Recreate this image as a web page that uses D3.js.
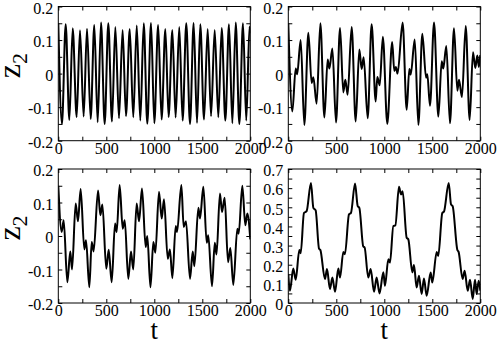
<!DOCTYPE html>
<html>
<head>
<meta charset="utf-8">
<script src="https://cdn.jsdelivr.net/npm/d3@7"></script>
<style>
  body{margin:0;background:#fff}
  svg{display:block}
  text{font-family:"Liberation Serif","Times New Roman",serif;fill:#000}
</style>
</head>
<body>
<svg id="chart" width="498" height="341"></svg>
<script>
// panel a (top left): fast oscillation, extrema
const tA=[0,38,77,115,150,191,226,264,299,337,375,410,445,483,521,559,594,632,670,705,744,781,817,854,890,927,966,1000,1040,1076,1115,1149,1188,1222,1260,1295,1333,1372,1410,1445,1479,1518,1556,1591,1629,1667,1702,1740,1778,1813,1848,1886,1924,1958,1992,2000]
const zA=[0.15,-0.15,0.147,-0.138,0.135,-0.13,0.129,-0.128,0.134,-0.135,0.145,-0.145,0.152,-0.15,0.15,-0.143,0.139,-0.133,0.13,-0.127,0.133,-0.13,0.143,-0.14,0.15,-0.149,0.151,-0.148,0.145,-0.137,0.133,-0.13,0.13,-0.131,0.139,-0.14,0.15,-0.15,0.151,-0.147,0.147,-0.137,0.133,-0.127,0.13,-0.13,0.136,-0.14,0.147,-0.148,0.152,-0.15,0.15,-0.14,0.14,0.12]

// panel b (top right)
const tB=[0,42,77,92,129,167,209,243,261,295,334,376,410,428,459,497,539,573,594,618,660,702,740,764,785,827,868,910,927,952,985,1031,1082,1104,1120,1138,1191,1233,1261,1275,1317,1355,1396,1435,1448,1476,1518,1563,1598,1614,1646,1684,1726,1761,1778,1809,1848,1889,1924,1948,1969,1985,2000]
const zB=[0.15,-0.113,0.015,-0.002,0.1,-0.153,0.122,-0.028,-0.011,-0.09,0.15,-0.131,0.042,0.015,0.075,-0.146,0.136,-0.056,-0.018,-0.063,0.139,-0.143,0.072,0.014,0.049,-0.133,0.147,-0.083,-0.01,-0.035,0.11,-0.15,0.094,0.008,0.02,0.0,0.152,-0.108,0.014,-0.003,0.102,-0.153,0.119,-0.012,-0.002,-0.096,0.152,-0.128,0.037,0.015,0.082,-0.148,0.135,-0.051,-0.018,-0.07,0.142,-0.138,0.064,0.017,0.054,0.02,0.055]

// panel c (bottom left)
const tC=[0,35,56,94,125,143,181,205,233,271,289,323,348,368,414,438,459,500,525,556,591,608,639,671,692,729,757,781,816,841,872,910,927,960,990,1011,1049,1077,1101,1140,1163,1188,1223,1237,1282,1306,1330,1372,1400,1417,1459,1476,1511,1546,1562,1601,1630,1648,1684,1705,1733,1768,1792,1823,1865,1879,1917,1948,1969,2000]
const zC=[0.15,0.012,0.047,-0.138,-0.046,-0.1,0.097,0.044,0.14,-0.04,-0.013,-0.153,-0.018,-0.046,0.136,0.062,0.094,-0.098,-0.041,-0.138,0.037,0.012,0.152,0.022,0.047,-0.128,-0.046,-0.1,0.097,0.044,0.142,-0.033,0.0,-0.153,-0.018,-0.05,0.132,0.052,0.11,-0.068,-0.04,-0.126,0.03,0.012,0.152,0.027,0.044,-0.128,-0.046,-0.09,0.084,0.052,0.147,-0.02,0.002,-0.15,-0.02,-0.055,0.127,0.072,0.114,-0.078,-0.036,-0.146,0.022,0.007,0.15,0.032,0.067,-0.01]

// panel d (bottom right)
const tD=[0,17,52,77,115,129,163,191,236,261,285,320,334,382,403,434,459,487,521,539,573,590,632,653,695,723,740,781,795,833,858,893,920,950,990,1007,1042,1059,1094,1115,1153,1174,1191,1233,1250,1292,1309,1337,1361,1389,1413,1441,1483,1500,1546,1562,1604,1622,1671,1695,1712,1761,1774,1816,1837,1869,1893,1921,1945,1962,1983,2000]
const zD=[0.151,0.064,0.18,0.121,0.277,0.26,0.47,0.48,0.627,0.497,0.484,0.284,0.277,0.125,0.177,0.073,0.133,0.059,0.18,0.133,0.267,0.255,0.463,0.471,0.624,0.506,0.497,0.295,0.29,0.133,0.177,0.059,0.133,0.05,0.16,0.09,0.229,0.211,0.402,0.405,0.607,0.567,0.584,0.341,0.333,0.16,0.198,0.081,0.142,0.047,0.128,0.038,0.159,0.107,0.267,0.246,0.47,0.478,0.627,0.515,0.506,0.277,0.267,0.125,0.168,0.064,0.121,0.021,0.121,0.047,0.116,0.064]

const xTicks=[0,500,1000,1500,2000]
const xMinor=[250,750,1250,1750]
const zTicks=[-0.2,-0.1,0,0.1,0.2]
const zMinor=[-0.15,-0.05,0.05,0.15]
const dTicks=[0,0.1,0.2,0.3,0.4,0.5,0.6,0.7]
const dMinor=[0.05,0.15,0.25,0.35,0.45,0.55,0.65]

const svg=d3.select("#chart")
const fmt=d=>d===0?"0":String(+d.toFixed(2))
const serif="'Liberation Serif','Times New Roman',serif"

const panels=[
  {id:"a",t:tA,z:zA,x0:58.3,x1:250.3,y0:6.5,y1:140.7,dom:[-0.2,0.2],yt:zTicks,ym:zMinor,zlab:true,tlab:false},
  {id:"b",t:tB,z:zB,x0:288.3,x1:480.3,y0:6.5,y1:140.7,dom:[-0.2,0.2],yt:zTicks,ym:zMinor,zlab:false,tlab:false},
  {id:"c",t:tC,z:zC,x0:58.3,x1:250.3,y0:169,y1:303,dom:[-0.2,0.2],yt:zTicks,ym:zMinor,zlab:true,tlab:true},
  {id:"d",t:tD,z:zD,x0:288.3,x1:480.3,y0:169,y1:303,dom:[0,0.7],yt:dTicks,ym:dMinor,zlab:false,tlab:true}
]

panels.forEach(p=>{
  const w=p.x1-p.x0, h=p.y1-p.y0
  const x=d3.scaleLinear().domain([0,2000]).range([0,w])
  const y=d3.scaleLinear().domain(p.dom).range([h,0])
  const g=svg.append("g").attr("transform",`translate(${p.x0},${p.y0})`)

  g.append("clipPath").attr("id","clip"+p.id)
   .append("rect").attr("width",w).attr("height",h)

  const pts=p.t.map((t,i)=>[t,p.z[i]])
  g.append("path")
   .datum(pts)
   .attr("clip-path",`url(#clip${p.id})`)
   .attr("fill","none").attr("stroke","#000").attr("stroke-width",2)
   .attr("stroke-linejoin","round")
   .attr("d",d3.line().x(d=>x(d[0])).y(d=>y(d[1])).curve(d3.curveMonotoneX))

  // ticks on all four sides, pointing inward
  const ax=[
    [d3.axisBottom(x).tickValues(xTicks),`translate(0,${h})`,"x"],
    [d3.axisBottom(x).tickValues(xMinor),`translate(0,${h})`,""],
    [d3.axisTop(x).tickValues(xTicks.concat(xMinor)),`translate(0,0)`,""],
    [d3.axisLeft(y).tickValues(p.yt),`translate(0,0)`,"y"],
    [d3.axisLeft(y).tickValues(p.ym),`translate(0,0)`,""],
    [d3.axisRight(y).tickValues(p.yt.concat(p.ym)),`translate(${w},0)`,""]
  ]
  ax.forEach(([a,tr,lab])=>{
    a.tickSizeInner(-4).tickSizeOuter(0).tickPadding(lab=="y"?5:2)
     .tickFormat(lab?fmt:"")
    const ag=g.append("g").attr("transform",tr).call(a)
    ag.attr("font-family",null)
    ag.select(".domain").remove()
    ag.selectAll("line").attr("stroke","#000")
    ag.selectAll("text").attr("font-size",16).attr("fill","#000").style("font-family",serif)
    if(lab=="y") ag.selectAll("text").attr("dy","0.42em")
  })

  g.append("rect").attr("width",w).attr("height",h)
   .attr("fill","none").attr("stroke","#000").attr("stroke-width",1)

  if(p.zlab){
    const lab=g.append("text")
      .attr("transform",`translate(${20-p.x0},${h/2-8}) rotate(-90)`)
      .attr("text-anchor","middle").attr("font-size",32).style("font-family",serif)
    lab.append("tspan").text("z")
    lab.append("tspan").attr("font-size",22).attr("dy",7).text("2")
  }
  if(p.tlab){
    g.append("text").attr("x",w/2).attr("y",h+36)
     .attr("text-anchor","middle").attr("font-size",27).style("font-family",serif).text("t")
  }
})
</script>
</body>
</html>
